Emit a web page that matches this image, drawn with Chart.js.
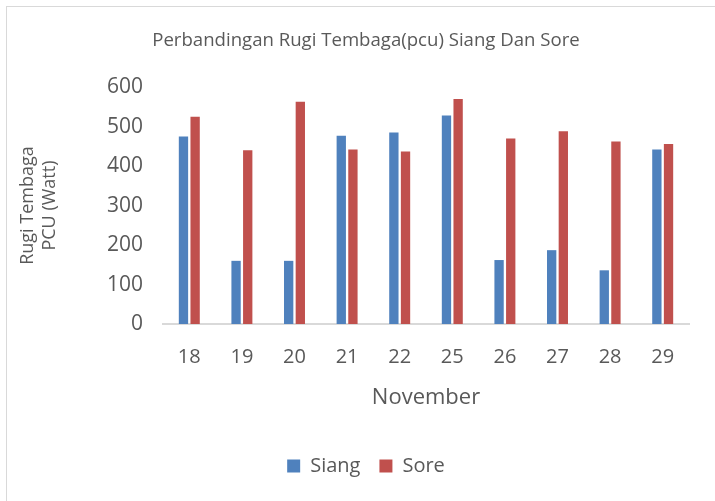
<!DOCTYPE html>
<html>
<head>
<meta charset="utf-8">
<script src="https://cdn.jsdelivr.net/npm/chart.js@4.4.1/dist/chart.umd.min.js"></script>
<style>
    html, body { margin: 0; padding: 0; background: #fff; }
    #wrap { position: relative; width: 715px; height: 501px; overflow: hidden; }
    #frame { position: absolute; left: 6px; top: 6px; width: 800px; height: 600px;
             border-top: 1px solid #d9d9d9; border-left: 1px solid #d9d9d9; }
    #chart { position: absolute; left: 0; top: 0; }
</style>
</head>
<body>
<div id="wrap">
    <div id="frame"></div>
    <canvas id="chart" width="715" height="501"></canvas>
</div>
<script>
// data - tanggal November
const days = ['18', '19', '20', '21', '22', '25', '26', '27', '28', '29'];
const siang = [475, 160, 160, 477, 485, 528, 162, 187, 136, 442];
const sore = [525, 440, 563, 442, 437, 570, 470, 488, 462, 456];
const yTicks = [0, 100, 200, 300, 400, 500, 600];

const grey = '#595959';
const fam = "'Open Sans', sans-serif";

new Chart(document.getElementById('chart').getContext('2d'), {
    type: 'bar',
    data: {
        labels: days,
        datasets: [
            { label: 'Siang', data: siang, backgroundColor: '#4f81bd', categoryPercentage: 0.443, barPercentage: 0.8 },
            { label: 'Sore', data: sore, backgroundColor: '#c0504d', categoryPercentage: 0.443, barPercentage: 0.8 }
        ]
    },
    options: {
        responsive: false,
        devicePixelRatio: 1,
        animation: false,
        layout: { padding: { left: 43, right: 26, top: 0, bottom: 15 } },
        plugins: {
            title: {
                display: true,
                text: 'Perbandingan Rugi Tembaga(pcu) Siang Dan Sore',
                color: grey,
                font: { family: fam, size: 18.6, weight: 'normal', lineHeight: 1.2 },
                padding: { top: 29.4, bottom: 35.4 }
            },
            legend: {
                position: 'bottom',
                labels: {
                    color: grey,
                    font: { family: fam, size: 20 },
                    boxWidth: 13,
                    boxHeight: 13,
                    padding: 19
                }
            },
            tooltip: { enabled: false }
        },
        scales: {
            x: {
                grid: { display: false, drawTicks: false },
                border: { display: true, color: '#d9d9d9', width: 2 },
                ticks: { color: grey, font: { family: fam, size: 20 }, padding: 21, maxRotation: 0 },
                title: {
                    display: true,
                    text: 'November',
                    color: grey,
                    font: { family: fam, size: 22, lineHeight: 1.2 },
                    padding: { top: 0, bottom: 26 }
                },
                afterFit: s => { s.height = 113; }
            },
            y: {
                min: 0,
                max: 600,
                grid: { display: false, drawTicks: false },
                border: { display: false },
                afterBuildTicks: s => { s.ticks = yTicks.map(v => ({ value: v })); },
                ticks: { color: grey, font: { family: fam, size: 21 }, padding: 20 },
                title: {
                    display: true,
                    text: ['Rugi Tembaga', 'PCU (Watt)'],
                    color: grey,
                    font: { family: fam, size: 18, lineHeight: '22px' },
                    padding: { top: -26, bottom: 0 }
                },
                afterFit: s => { s.width = 120; }
            }
        }
    }
});
</script>
</body>
</html>
